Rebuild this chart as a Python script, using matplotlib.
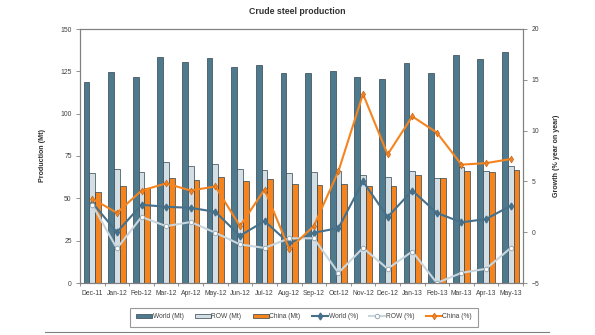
import matplotlib.pyplot as plt
import numpy as np
from matplotlib.lines import Line2D

plt.rcParams['font.family'] = ['Liberation Sans', 'DejaVu Sans']

months = ['Dec-11', 'Jan-12', 'Feb-12', 'Mar-12', 'Apr-12', 'May-12', 'Jun-12', 'Jul-12', 'Aug-12',
          'Sep-12', 'Oct-12', 'Nov-12', 'Dec-12', 'Jan-13', 'Feb-13', 'Mar-13', 'Apr-13', 'May-13']

world_mt = [118.7, 124.8, 121.7, 133.5, 130.5, 132.7, 127.6, 128.8, 123.8,
            123.8, 125.2, 121.7, 120.5, 130.0, 124.2, 134.8, 132.3, 136.2]
row_mt = [65.0, 67.3, 65.3, 71.2, 68.9, 70.0, 67.3, 66.9, 65.0,
          65.3, 65.9, 64.0, 62.6, 66.1, 62.0, 68.5, 66.3, 69.1]
china_mt = [53.5, 57.0, 55.9, 62.0, 61.0, 62.4, 60.0, 61.4, 58.5,
            58.0, 58.6, 57.0, 57.5, 63.6, 61.8, 66.1, 65.6, 66.7]

world_pct = [2.9, 0.0, 2.7, 2.5, 2.4, 2.0, -0.35, 1.1, -1.1,
             -0.05, 0.4, 5.0, 1.5, 4.1, 1.9, 0.97, 1.3, 2.6]
row_pct = [2.7, -1.6, 1.5, 0.6, 1.0, -0.05, -1.2, -1.55, -0.6,
           -0.6, -4.0, -1.55, -3.6, -1.9, -5.0, -4.0, -3.6, -1.55]
china_pct = [3.3, 1.9, 4.1, 4.8, 4.1, 4.5, 0.6, 4.2, -1.65,
             0.6, 6.0, 13.6, 7.65, 11.4, 9.8, 6.65, 6.8, 7.2]

c_world = '#4f7a8e'
c_row = '#d3dee5'
c_china = '#f5841f'
c_world_line = '#46708a'
c_row_line = '#c9d6de'
edge = '#2f4450'
grey = '#808080'

fig = plt.figure(figsize=(5.95, 3.35), dpi=100)
ax = fig.add_axes([80/595, 1-283/335, 443/595, 254/335])
ax2 = ax.twinx()

x = np.arange(len(months))
w = 0.235
ax.bar(x - w, world_mt, w, color=c_world, edgecolor=edge, linewidth=0.5, label='World (Mt)', zorder=2)
ax.bar(x, row_mt, w, color=c_row, edgecolor=edge, linewidth=0.5, label='ROW (Mt)', zorder=2)
ax.bar(x + w, china_mt, w, color=c_china, edgecolor=edge, linewidth=0.5, label='China (Mt)', zorder=2)

ax2.plot(x, world_pct, color=c_world_line, lw=1.5, marker='d', ms=3.5, mfc=c_world_line,
         mec=c_world_line, label='World (%)')
ax2.plot(x, row_pct, color=c_row_line, lw=1.5, marker='o', ms=3.2, mfc='white',
         mec='#9aaab5', mew=0.7, label='ROW (%)')
ax2.plot(x, china_pct, color=c_china, lw=1.5, marker='d', ms=3.5, mfc=c_china,
         mec='#c8661a', mew=0.5, label='China (%)')

ax.set_xlim(-0.5, len(months) - 0.5)
ax.set_ylim(0, 150)
ax.set_yticks(range(0, 151, 25))
ax2.set_ylim(-5, 20)
ax2.set_yticks(range(-5, 21, 5))
ax.set_xticks(x)
ax.set_xticklabels(months)
ax.set_xticks(np.arange(len(months) + 1) - 0.5, minor=True)

for a in (ax, ax2):
    for s in a.spines.values():
        s.set_color(grey)
        s.set_linewidth(0.8)
    a.tick_params(labelsize=4.9, colors='#404040', length=3, width=0.6)
ax.tick_params(axis='x', which='major', length=0, pad=5)
ax.tick_params(axis='x', which='minor', length=2, width=0.6, color=grey)
ax.tick_params(axis='y', color=grey, pad=3)
ax2.tick_params(axis='y', color=grey, pad=3)

ax.set_ylabel('Production (Mt)', fontsize=5.1, fontweight='bold', color='#303030', labelpad=10)
ax2.set_ylabel('Growth (% year on year)', fontsize=5.1, fontweight='bold', color='#303030', labelpad=10)
fig.text(0.5, 1 - 12/335, 'Crude steel production', ha='center', va='center',
         fontsize=6.3, fontweight='bold', color='#303030')

h1, l1 = ax.get_legend_handles_labels()
h2, l2 = ax2.get_legend_handles_labels()
leg = fig.legend(h1 + h2, l1 + l2, loc='center', bbox_to_anchor=(304/595, 1 - 317/335), ncol=6,
                 fontsize=4.8, frameon=True, fancybox=False, handlelength=2.4, handleheight=0.6,
                 handletextpad=0.1, columnspacing=1.7, borderpad=0.9)
leg.get_frame().set_edgecolor(grey)
leg.get_frame().set_linewidth(0.8)
for t in leg.get_texts():
    t.set_color('#404040')

fig.add_artist(Line2D([45/595, 549/595], [1 - 332/335, 1 - 332/335], color=grey, lw=0.8))

fig.savefig('out.png', dpi=100, facecolor='white')
